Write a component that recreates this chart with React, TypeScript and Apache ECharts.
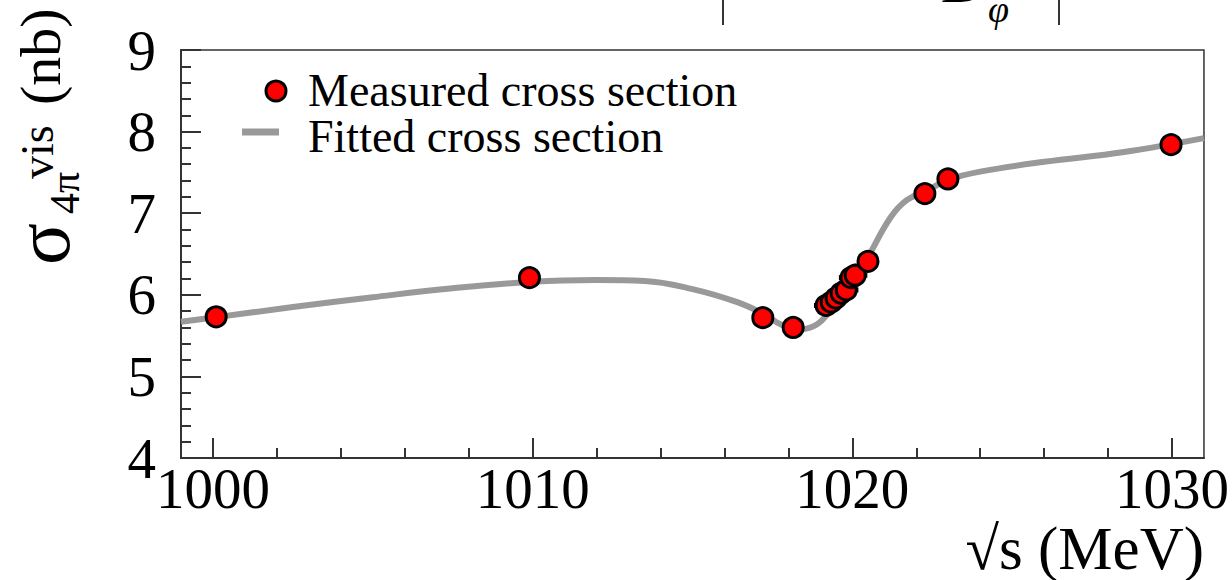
import React, { useEffect, useRef } from "react";
import * as echarts from "echarts";

const SERIF = '"Liberation Serif", "DejaVu Serif", serif';

// Measured visible cross section (MeV, nb)
const measE = [1000.1, 1009.9, 1017.2, 1018.15, 1019.18, 1019.34, 1019.49, 1019.65, 1019.81, 1019.96, 1020.09, 1020.49, 1022.27, 1022.99, 1029.97];
const measSigma = [5.73, 6.21, 5.72, 5.6, 5.87, 5.91, 5.96, 6.02, 6.06, 6.21, 6.24, 6.41, 7.24, 7.42, 7.84];
const measErrE = [0, 0, 0, 0, 0.38, 0.38, 0.38, 0.38, 0.38, 0.38, 0.38, 0, 0, 0, 0];
const measErrSigma = [0, 0, 0, 0, 0.14, 0.14, 0.14, 0.14, 0.14, 0.14, 0.14, 0, 0, 0, 0];

// Fitted cross section curve
const fitE = [999.0, 1000.0, 1002.5, 1005.0, 1007.5, 1010.0, 1012.0, 1013.5, 1015.0, 1016.4, 1017.2, 1017.8, 1018.4, 1018.9, 1019.3, 1019.7, 1020.1, 1020.5, 1021.2, 1021.7, 1022.3, 1023.0, 1024.0, 1026.0, 1028.5, 1031.0];
const fitSigma = [5.67, 5.72, 5.85, 5.97, 6.08, 6.16, 6.18, 6.17, 6.07, 5.91, 5.77, 5.63, 5.58, 5.64, 5.8, 5.98, 6.2, 6.47, 6.95, 7.16, 7.27, 7.41, 7.51, 7.63, 7.75, 7.92];

const xMajor = [1000, 1010, 1020, 1030];
const xMinor = [1002, 1004, 1006, 1008, 1012, 1014, 1016, 1018, 1022, 1024, 1026, 1028];

const AXIS = "#333";
const LABEL_SIZE = 57;

export default function App() {
  const ref = useRef<HTMLDivElement>(null);

  useEffect(() => {
    const chart = echarts.init(ref.current!, null, { renderer: "svg" });
    chart.setOption({
      animation: false,
      backgroundColor: "#fff",
      grid: { left: 181, top: 50, right: 25, bottom: 122, show: true, borderColor: AXIS, borderWidth: 1.5 },
      xAxis: [
        {
          type: "value",
          min: 999,
          max: 1031,
          position: "bottom",
          axisLine: { show: true, lineStyle: { color: AXIS, width: 2 } },
          splitLine: { show: false },
          axisTick: { show: true, inside: true, length: 20, customValues: xMajor, lineStyle: { color: AXIS, width: 2 } },
          axisLabel: {
            customValues: xMajor,
            formatter: (v: number) => String(v),
            fontFamily: SERIF,
            fontSize: LABEL_SIZE,
            lineHeight: 48,
            color: "#000",
            margin: 6,
          },
        },
        {
          type: "value",
          min: 999,
          max: 1031,
          position: "bottom",
          axisLine: { show: false },
          splitLine: { show: false },
          axisTick: { show: true, inside: true, length: 10, customValues: xMinor, lineStyle: { color: AXIS, width: 2 } },
          axisLabel: { show: false },
        },
      ],
      yAxis: {
        type: "value",
        min: 4,
        max: 9,
        interval: 1,
        axisLine: { show: true, lineStyle: { color: AXIS, width: 2 } },
        splitLine: { show: false },
        axisTick: { show: true, inside: true, length: 20, lineStyle: { color: AXIS, width: 2 } },
        minorTick: { show: true, splitNumber: 5, length: 10, lineStyle: { color: AXIS, width: 2 } },
        minorSplitLine: { show: false },
        axisLabel: { fontFamily: SERIF, fontSize: LABEL_SIZE, color: "#000", margin: 25 },
      },
      series: [
        {
          name: "Fitted cross section",
          type: "line",
          xAxisIndex: 0,
          data: fitE.map((e, i) => [e, fitSigma[i]]),
          smooth: 0.4,
          symbol: "none",
          lineStyle: { color: "#999", width: 6 },
          z: 2,
        },
        {
          name: "errors",
          type: "custom",
          xAxisIndex: 0,
          data: measE.map((e, i) => [e, measSigma[i], measErrE[i], measErrSigma[i]]),
          renderItem: (_params: any, api: any) => {
            const e = api.value(0);
            const s = api.value(1);
            const de = api.value(2);
            const ds = api.value(3);
            if (!de && !ds) return null;
            const l = api.coord([e - de, s]);
            const r = api.coord([e + de, s]);
            const t = api.coord([e, s + ds]);
            const b = api.coord([e, s - ds]);
            return {
              type: "group",
              children: [
                { type: "line", shape: { x1: l[0], y1: l[1], x2: r[0], y2: r[1] }, style: { stroke: "#000", lineWidth: 5 } },
                { type: "line", shape: { x1: t[0], y1: t[1], x2: b[0], y2: b[1] }, style: { stroke: "#000", lineWidth: 3 } },
              ],
            };
          },
          z: 3,
        },
        {
          name: "Measured cross section",
          type: "scatter",
          xAxisIndex: 0,
          data: measE.map((e, i) => [e, measSigma[i]]),
          symbol: "circle",
          symbolSize: 20,
          itemStyle: { color: "#ff0000", borderColor: "#000", borderWidth: 3, opacity: 1 },
          z: 4,
        },
      ],
      graphic: [
        // legend
        { type: "circle", shape: { cx: 276, cy: 91, r: 10 }, style: { fill: "#ff0000", stroke: "#000", lineWidth: 3 } },
        { type: "line", shape: { x1: 242, y1: 132, x2: 279, y2: 132 }, style: { stroke: "#999", lineWidth: 7 } },
        { type: "text", x: 308, y: 90, style: { text: "Measured cross section", fontFamily: SERIF, fontSize: 46, lineHeight: 40, fill: "#000", verticalAlign: "middle" } },
        { type: "text", x: 308, y: 136, style: { text: "Fitted cross section", fontFamily: SERIF, fontSize: 46, lineHeight: 40, fill: "#000", verticalAlign: "middle" } },
        // y-axis title
        { type: "text", x: 42, y: 265, rotation: Math.PI / 2, style: { text: "σ", fontFamily: SERIF, fontSize: 78, lineHeight: 60, fill: "#000", verticalAlign: "middle" } },
        { type: "text", x: 65, y: 214, rotation: Math.PI / 2, style: { text: "4π", fontFamily: SERIF, fontSize: 42, fill: "#000", verticalAlign: "middle" } },
        { type: "text", x: 37, y: 179, rotation: Math.PI / 2, style: { text: "vis", fontFamily: SERIF, fontSize: 46, fill: "#000", verticalAlign: "middle" } },
        { type: "text", x: 40, y: 105, rotation: Math.PI / 2, style: { text: "(nb)", fontFamily: SERIF, fontSize: 58, fill: "#000", verticalAlign: "middle" } },
        // x-axis title
        { type: "text", x: 1204, y: 548, style: { text: "√s (MeV)", fontFamily: SERIF, fontSize: 61, lineHeight: 50, fill: "#000", align: "right", verticalAlign: "middle" } },
        // edge of the panel above
        { type: "line", shape: { x1: 723, y1: 0, x2: 723, y2: 25 }, style: { stroke: "#333", lineWidth: 2 } },
        { type: "line", shape: { x1: 1059, y1: 0, x2: 1059, y2: 25 }, style: { stroke: "#333", lineWidth: 2 } },
        { type: "text", x: 943, y: 12, style: { text: "D", fontFamily: SERIF, fontStyle: "italic", fontSize: 60, fill: "#000", verticalAlign: "bottom" } },
        { type: "text", x: 988, y: 28, style: { text: "φ", fontFamily: SERIF, fontStyle: "italic", fontSize: 38, fill: "#000", verticalAlign: "bottom" } },
      ],
    });
    return () => chart.dispose();
  }, []);

  return <div ref={ref} style={{ position: "fixed", left: 0, top: 0, width: 1232, height: 580, background: "#fff" }} />;
}
